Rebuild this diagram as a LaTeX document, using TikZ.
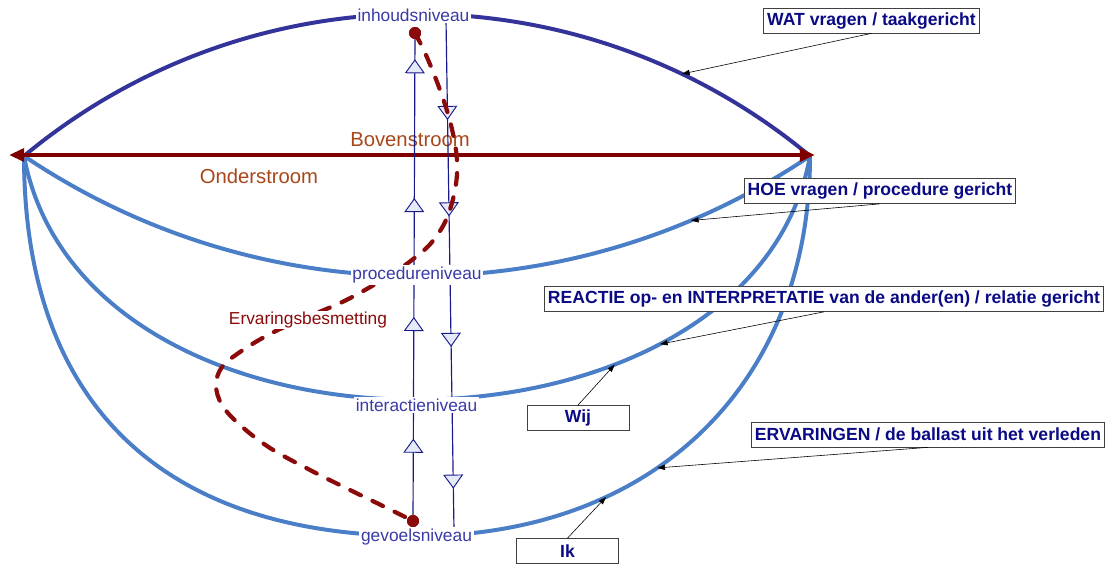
\documentclass[tikz,border=0pt]{standalone}
\usepackage{fontspec}
\setmainfont{Liberation Sans}
\usetikzlibrary{arrows.meta,decorations.markings}
\definecolor{wat}{HTML}{333399}
\definecolor{arcblue}{HTML}{4A7EC7}
\definecolor{lvl}{HTML}{3A3AA8}
\definecolor{navy}{HTML}{0A0A85}
\definecolor{stream}{HTML}{800000}
\definecolor{streamtxt}{HTML}{A8461A}
\definecolor{besmet}{HTML}{8B0A0A}
\definecolor{trifill}{HTML}{E4EAF7}
\definecolor{lineblue}{HTML}{1A1A8A}
\tikzset{lvltip/.tip={Triangle[length=12pt,width=17pt,fill=trifill,line width=0.8pt]}}

\begin{document}
\begin{tikzpicture}[x=0.03cm,y=-0.03cm,font=\fontsize{14.8}{17}\selectfont,>=Latex,
  bigarc/.style={line width=3.4pt},
  level/.style={text=lvl,fill=white,inner sep=1.5pt},
  stroomtxt/.style={text=streamtxt,font=\fontsize{17.3}{20}\selectfont},
  note/.style={draw=black!75,line width=0.6pt,fill=white,text=navy,
    font=\fontsize{15}{18}\selectfont\bfseries,inner xsep=3pt,minimum height=0.75cm},
  pointer/.style={-{Triangle[length=6.5pt,width=4.5pt]},line width=0.5pt},
  dot/.style={circle,fill=besmet,inner sep=0pt,minimum size=0.36cm},
  upline/.style={lineblue,line width=1pt,postaction=decorate,
    decoration={markings,
      mark=at position .16 with {\arrow{lvltip}},
      mark=at position .416 with {\arrow{lvltip}},
      mark=at position .666 with {\arrow{lvltip}},
      mark=at position .958 with {\arrow{lvltip}}}},
  downline/.style={lineblue,line width=1pt,postaction=decorate,
    decoration={markings,
      mark=at position .196 with {\arrow{lvltip}},
      mark=at position .385 with {\arrow{lvltip}},
      mark=at position .641 with {\arrow{lvltip}},
      mark=at position .919 with {\arrow{lvltip}}}}]
  \useasboundingbox (0,0) rectangle (1112,565);

  \coordinate (west) at (24,156);
  \coordinate (east) at (810,156);

  % Level arcs
  \draw[wat,bigarc] (west) .. controls (251.9,-33.4) and (582.1,-33.4) .. (east)
    coordinate[pos=0.825] (pWat);
  \draw[arcblue,bigarc] (west) .. controls (261.5,316) and (572.5,316) .. (east)
    coordinate[pos=0.84] (pHoe);
  \draw[arcblue,bigarc] (west) .. controls (85,484) and (752,478) .. (east)
    coordinate[pos=0.737] (pReact) coordinate[pos=0.688] (pWij);
  \draw[arcblue,bigarc] (west) .. controls (24,403) and (161.5,536) .. (417,536)
    .. controls (653.2,536) and (810,384) .. (east)
    coordinate[pos=0.4] (pErv) coordinate[pos=0.3] (pIk);

  % Boven- en onderstroom
  \coordinate (streamL) at (9,155);
  \coordinate (streamR) at (815,155);
  \draw[stream,line width=3.4pt,{Triangle[length=13pt,width=11pt]}-{Triangle[length=13pt,width=11pt]}]
    (streamL) -- (streamR);
  \node[stroomtxt] (boven) at (410,140) {Bovenstroom};
  \node[stroomtxt] (onder) at (259,176) {Onderstroom};

  % Up and down between the levels
  \node[dot] (dotTop) at (415,33) {};
  \node[dot] (dotBot) at (413,521) {};
  \coordinate (downTop) at (446,20);
  \coordinate (downBot) at (454,530);
  \draw[upline] (dotBot) -- (dotTop);
  \draw[downline] (downTop) -- (downBot);

  % Ervaringsbesmetting
  \draw[besmet,line width=3.6pt,line cap=round,dash pattern=on 10pt off 11pt]
    plot[smooth,tension=0.6] coordinates {(dotTop) (426,55) (440,90) (451,125)
      (457,160) (455,190) (446,220) (432,242) (417,256) (395,272) (365,290)
      (338,304) (300,320) (268,335) (240,352) (222,367) (216,385) (222,405)
      (240,425) (270,448) (310,470) (350,490) (385,507) (dotBot)};
  \node[text=besmet,fill=white,inner sep=0.5pt] (besm) at (308,320) {Ervaringsbesmetting};

  % Levels
  \node[level] (inhoud) at (413.5,15) {inhoudsniveau};
  \node[level] (proc) at (417,275) {procedureniveau};
  \node[level] (inter) at (416.5,405) {interactieniveau};
  \node[level] (gevoel) at (416.5,537) {gevoelsniveau};
  \node[dot] at (dotTop) {};
  \node[dot] at (dotBot) {};

  % Annotations
  \node[note] (watBox) at (871.5,20.5) {WAT vragen / taakgericht};
  \node[note] (hoeBox) at (880,191) {HOE vragen / procedure gericht};
  \node[note] (reactBox) at (824,299)
    {REACTIE op- en INTERPRETATIE van de ander(en) / relatie gericht};
  \node[note,minimum width=3.06cm] (wijBox) at (578,418) {Wij};
  \node[note] (ervBox) at (928,434.5) {ERVARINGEN / de ballast uit het verleden};
  \node[note,minimum width=3.06cm] (ikBox) at (567.5,551) {Ik};
  \draw[pointer] (watBox.south) -- (pWat);
  \draw[pointer] (hoeBox.south) -- (pHoe);
  \draw[pointer] (reactBox.south) -- (pReact);
  \draw[pointer] (wijBox.north) -- (pWij);
  \draw[pointer] (ervBox.south) -- (pErv);
  \draw[pointer] (ikBox.north) -- (pIk);
\end{tikzpicture}
\end{document}
